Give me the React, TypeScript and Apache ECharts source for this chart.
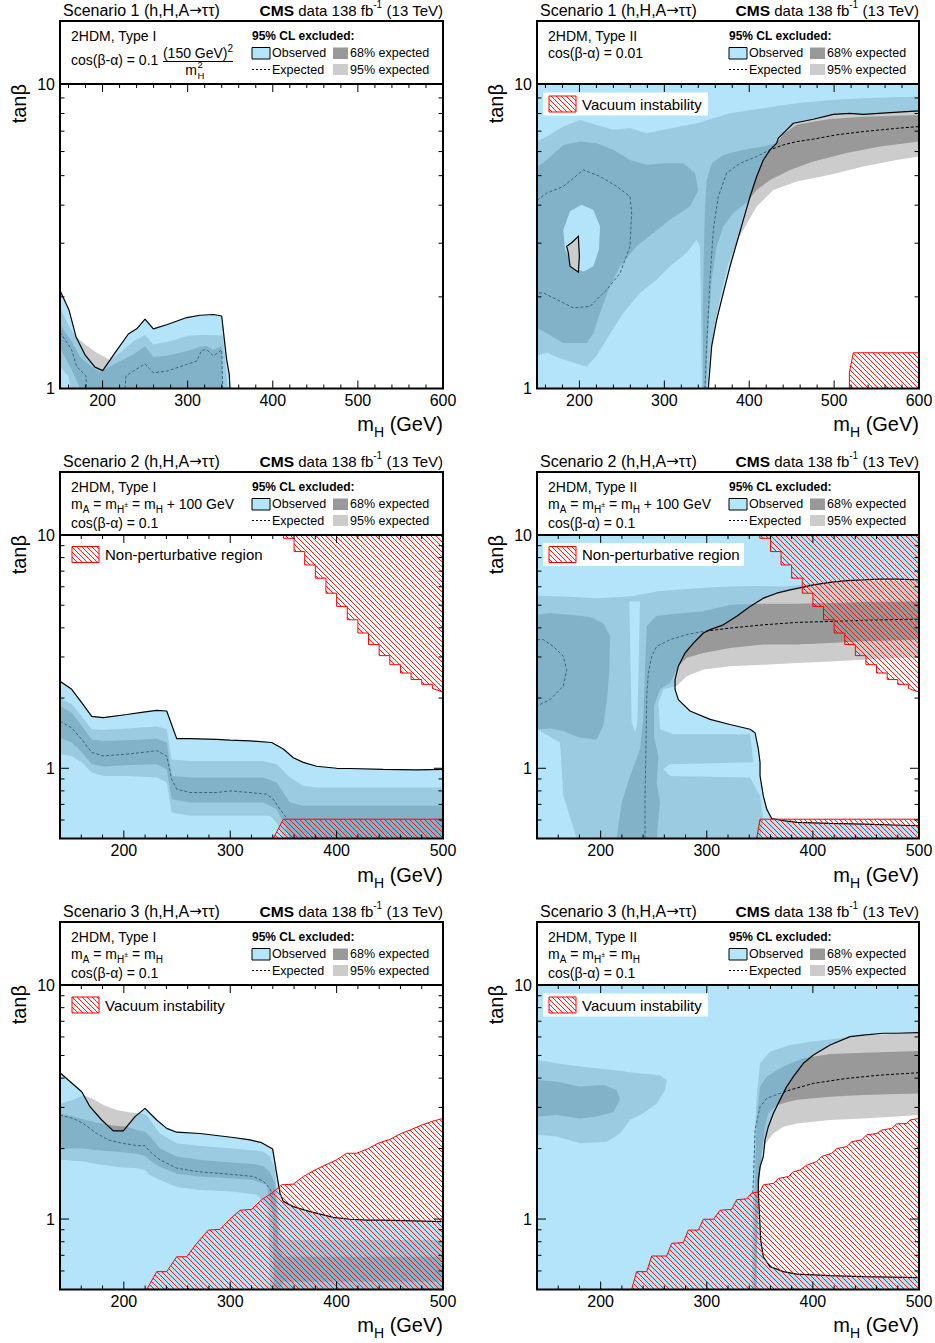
import React, { useEffect, useRef } from 'react';
import * as echarts from 'echarts';

type Pt = [number, number];

const FF = '"Liberation Sans", Arial, Helvetica, sans-serif';
const lg = (v: number) => Math.log10(v);

const C95 = '#cccccc';
const C68 = '#999999';
const COBS = 'rgba(108,202,245,0.51)';
const COBS_LEG = '#b3e5fb';

// ---------------- axis ticks ----------------
const X_LABELS_TOP = [200, 300, 400, 500, 600];
const X_LABELS_LOW = [200, 300, 400, 500];
const X_MINOR_TOP = [160, 180, 220, 240, 260, 280, 320, 340, 360, 380, 420, 440, 460, 480, 520, 540, 560, 580];
const X_MINOR_LOW = [160, 180, 220, 240, 260, 280, 320, 340, 360, 380, 420, 440, 460, 480];
const Y_MAJOR = [1, 10];
const Y_MINOR_TOP = [2, 3, 4, 5, 6, 7, 8, 9];
const Y_MINOR_LOW = [0.6, 0.7, 0.8, 0.9, 2, 3, 4, 5, 6, 7, 8, 9];

// ---------------- Panel 1: Scenario 1, Type I ----------------
const P1_OBS: Pt[] = [[150, 2.10], [160.6, 1.81], [168.8, 1.48], [179.4, 1.29], [191.1, 1.175], [200.2, 1.145], [214.6, 1.31], [230.3, 1.51], [240.1, 1.57], [249.9, 1.69], [259.7, 1.57], [275.3, 1.62], [298.9, 1.71], [314.5, 1.74], [330.1, 1.75], [340, 1.73], [342.7, 1.48], [345.8, 1.245], [348.9, 1.11], [349.7, 1.0]];
const P1_EXP_A: Pt[] = [[150, 1.53], [163.7, 1.34], [169.6, 1.18], [180.6, 1.10], [181.3, 1.0]];
const P1_EXP_B: Pt[] = [[226.4, 1.0], [227.6, 1.10], [236.2, 1.14], [249.9, 1.205], [259.7, 1.126], [275.4, 1.14], [298.9, 1.20], [310.6, 1.23], [316.5, 1.336], [322.4, 1.34], [330.2, 1.28], [340, 1.34], [341.2, 1.0]];
const P1_B95: Pt[] = [[150, 1.84], [161.8, 1.58], [170.4, 1.466], [181.3, 1.383], [193.1, 1.31], [200.9, 1.277], [208.8, 1.239], [220.5, 1.31], [236.2, 1.43], [249.9, 1.50], [259.7, 1.394], [283.2, 1.44], [298.9, 1.486], [314.5, 1.50], [330.2, 1.50], [341.2, 1.49], [343.9, 1.276], [347, 1.0], [162.5, 1.0], [159.8, 1.098], [150, 1.184]];
const P1_B68: Pt[] = [[150, 1.62], [163.7, 1.43], [173.5, 1.27], [185.3, 1.19], [197, 1.13], [208.8, 1.18], [220.5, 1.23], [236.2, 1.293], [249.9, 1.377], [259.7, 1.27], [275.4, 1.28], [298.9, 1.326], [314.5, 1.37], [322.4, 1.38], [330.2, 1.34], [340, 1.38], [341.2, 1.0], [173.5, 1.0], [163.7, 1.154], [150, 1.36]];

// ---------------- Panel 2: Scenario 1, Type II ----------------
const P2_OBS: Pt[] = [[351.8, 1.0], [355.8, 1.377], [361.7, 1.684], [369.5, 2.06], [377.4, 2.52], [385.2, 3.0], [393.1, 3.58], [401, 4.27], [408.8, 4.97], [416.6, 5.63], [424.5, 6.08], [432.3, 6.39], [434.3, 6.64], [444.1, 7.07], [452, 7.43], [475.5, 7.66], [499.1, 7.95], [518.7, 8.01], [534.4, 7.95], [565.9, 8.05], [600, 8.16]];
const P2_ISLAND: Pt[] = [[185, 2.93], [190.8, 3.01], [198.7, 3.16], [199.9, 2.72], [198.7, 2.41], [188.9, 2.52], [186.9, 2.79]];
const P2_EXP_LOOP: Pt[] = [[150, 4.15], [161.4, 4.38], [181, 4.61], [204.6, 5.22], [224.2, 4.97], [243.9, 4.61], [259.6, 4.27], [261.5, 3.77], [259.6, 2.93], [247.8, 2.39], [232.1, 2.11], [212.4, 1.86], [192.8, 1.84], [173.2, 1.96], [157.5, 2.06], [150, 2.06]];
const P2_EXP: Pt[] = [[347.9, 1.0], [349.9, 1.38], [353.8, 2.28], [357.7, 3.32], [363.6, 4.27], [373.4, 5.10], [389.2, 5.49], [408.8, 5.78], [424.5, 6.08], [440.2, 6.31], [455.9, 6.47], [475.5, 6.59], [503, 6.81], [534.5, 6.98], [573.7, 7.15], [600, 7.25]];
const P2_B95: Pt[] = [[150, 6.47], [161.4, 6.72], [181, 7.25], [200.7, 7.62], [220.3, 7.34], [239.9, 7.07], [259.6, 7.15], [279.2, 6.89], [298.8, 7.07], [318.5, 7.25], [338.1, 7.43], [357.7, 7.72], [377.4, 8.01], [416.6, 8.32], [455.9, 8.64], [495.2, 8.86], [534.5, 8.98], [600, 9.09], [600, 5.78], [573.7, 5.63], [534.5, 5.36], [495.2, 5.03], [455.9, 4.78], [428.4, 4.49], [408.8, 3.96], [393.1, 3.32], [386, 3.05], [375, 2.55], [366, 2.0], [359, 1.6], [354, 1.3], [350, 1.0], [344, 1.0], [343.2, 1.77], [342, 2.93], [338.1, 3.08], [326.3, 2.79], [306.7, 2.52], [291, 2.28], [271.3, 2.06], [251.7, 1.77], [232.1, 1.45], [220.3, 1.28], [208.5, 1.18], [181, 1.245], [161.4, 1.31], [150, 1.28]];
const P2_B68_L: Pt[] = [[150, 5.33], [161.4, 5.63], [181, 6.31], [200.7, 6.47], [220.3, 6.39], [239.9, 6.08], [259.6, 5.63], [279.2, 5.43], [298.8, 5.49], [322.4, 5.49], [336.1, 5.10], [340.1, 4.49], [330.2, 3.96], [306.7, 3.58], [287, 3.24], [267.4, 2.93], [247.8, 2.52], [236, 2.17], [224.2, 1.77], [216.4, 1.52], [208.5, 1.41], [181, 1.41], [161.4, 1.52], [150, 1.58]];
const P2_HOLE: Pt[] = [[202.6, 4.01], [216.4, 3.86], [224.2, 3.41], [223, 2.86], [216.4, 2.52], [204.6, 2.42], [192.8, 2.52], [183, 2.86], [181, 3.32], [188.9, 3.82]];
const P2_B68_R: Pt[] = [[346, 1.0], [345.2, 1.77], [346.7, 2.93], [347.9, 3.96], [349.9, 4.84], [355.8, 5.49], [369.5, 5.85], [393.1, 6.08], [416.6, 6.23], [432.3, 6.39], [440.2, 6.85], [455.9, 7.35], [475.5, 7.52], [495.2, 7.68], [534.5, 7.81], [573.7, 7.87], [600, 7.91], [600, 6.47], [554.1, 6.23], [514.8, 5.93], [475.5, 5.56], [448.1, 5.22], [424.5, 4.84], [408.8, 4.49], [397, 4.08], [381.3, 3.77], [369.5, 3.41], [361.7, 2.93], [355.8, 2.28], [351.8, 1.56], [349.1, 1.0]];
const P2_VAC: Pt[] = [[518, 1.0], [518, 1.13], [522.6, 1.31], [600, 1.31], [600, 1.0]];

// ---------------- Non-perturbative region (Scenario 2) ----------------
const NP_X = [350, 360, 370, 380, 390, 400, 410, 420, 430, 440, 450, 460, 470, 480, 490];
const NP_T = [9.68, 8.49, 7.44, 6.53, 5.63, 4.94, 4.33, 3.80, 3.39, 3.04, 2.78, 2.56, 2.40, 2.29, 2.20];
const NP_END = 2.12;
const NP_LOW: Pt[] = [[340.5, 0.5], [349.9, 0.605], [500, 0.605], [500, 0.5]];

// ---------------- Panel 3: Scenario 2, Type I ----------------
const P3_OBS: Pt[] = [[140, 2.36], [151, 2.18], [160.4, 1.91], [169.8, 1.67], [180.7, 1.65], [202.7, 1.70], [218.3, 1.74], [230.9, 1.77], [240.3, 1.76], [249.7, 1.34], [262.2, 1.34], [287.3, 1.33], [299.8, 1.32], [318.6, 1.31], [339, 1.29], [349.9, 1.21], [359.3, 1.11], [368.7, 1.06], [381.2, 1.02], [400, 1.0], [412.6, 0.998], [443.9, 0.99], [475.2, 0.984], [500, 0.99]];
const P3_B95: Pt[] = [[140, 2.00], [151, 1.88], [160.4, 1.67], [169.8, 1.47], [180.7, 1.46], [202.7, 1.48], [230.9, 1.51], [240.3, 1.47], [245, 1.09], [262.2, 1.075], [299.8, 1.075], [331.1, 1.075], [343.6, 1.04], [356.2, 0.912], [368.7, 0.840], [381.2, 0.827], [500, 0.827], [500, 0.5], [349.9, 0.5], [343.6, 0.586], [337.4, 0.626], [318.6, 0.626], [262.2, 0.626], [245, 0.647], [240.3, 0.868], [230.9, 0.912], [202.7, 0.927], [180.7, 0.927], [169.8, 0.958], [160.4, 1.06], [151, 1.13], [140, 1.15]];
const P3_B68: Pt[] = [[140, 1.85], [151, 1.73], [160.4, 1.52], [169.8, 1.33], [180.7, 1.31], [202.7, 1.32], [230.9, 1.34], [240.3, 1.29], [245, 0.927], [262.2, 0.912], [299.8, 0.912], [331.1, 0.912], [343.6, 0.868], [356.2, 0.713], [368.7, 0.690], [500, 0.690], [500, 0.5], [356.2, 0.5], [349.9, 0.586], [343.6, 0.668], [331.1, 0.713], [299.8, 0.713], [262.2, 0.713], [245, 0.737], [240.3, 0.99], [230.9, 1.04], [202.7, 1.03], [180.7, 1.017], [169.8, 1.04], [160.4, 1.17], [151, 1.29], [140, 1.35]];
const P3_EXP: Pt[] = [[140, 1.59], [151, 1.49], [160.4, 1.33], [169.8, 1.17], [180.7, 1.13], [202.7, 1.15], [218.3, 1.17], [230.9, 1.19], [240.3, 1.13], [245, 0.897], [249.7, 0.814], [262.2, 0.787], [287.3, 0.787], [299.8, 0.800], [318.6, 0.787], [334.2, 0.774], [340.5, 0.737], [346.8, 0.668], [353.7, 0.605]];

// ---------------- Panel 4: Scenario 2, Type II ----------------
const P4_OBS: Pt[] = [[500, 6.42], [479, 6.47], [463.3, 6.47], [447.6, 6.42], [431.9, 6.38], [416.2, 6.26], [400.5, 6.11], [391, 5.98], [378.5, 5.82], [365.9, 5.63], [353.3, 5.36], [340.8, 4.94], [328.2, 4.48], [315.6, 4.12], [303.1, 3.93], [296.8, 3.80], [287.4, 3.44], [279.5, 3.12], [273.2, 2.74], [270.1, 2.40], [270.1, 2.18], [273.2, 1.97], [284.2, 1.76], [303.1, 1.62], [321.9, 1.54], [340.8, 1.47], [345.5, 1.42], [348.6, 1.21], [350.2, 1.06], [350.2, 0.927], [353.3, 0.762], [356.5, 0.668], [361.2, 0.609], [372.2, 0.596], [384.8, 0.586], [416.2, 0.58], [447.6, 0.576], [500, 0.567]];
const P4_B95: Pt[] = [[140, 5.49], [164.8, 5.45], [196.2, 5.36], [227.7, 5.45], [252.8, 5.73], [277.9, 5.86], [309.3, 5.98], [340.8, 6.05], [372.2, 6.02], [403.6, 6.16], [435, 6.36], [500, 6.38], [500, 2.98], [479, 2.98], [447.6, 2.92], [416.2, 2.87], [384.8, 2.83], [353.3, 2.78], [321.9, 2.74], [296.8, 2.65], [281.1, 2.48], [271.6, 2.25], [259.1, 2.18], [254.4, 1.91], [255.9, 1.47], [268.5, 1.40], [340.8, 1.40], [343.9, 1.06], [265.4, 1.04], [259.1, 0.99], [265.4, 0.927], [340.8, 0.912], [350.2, 0.762], [353.3, 0.605], [350.2, 0.5], [177.4, 0.5], [164.8, 0.762], [161.7, 1.29], [140, 1.47]];
const P4_HOLE: Pt[] = [[227, 5.19], [237.1, 5.19], [234.6, 1.57], [232.4, 1.42], [229.2, 1.57]];
const P4_B68_L: Pt[] = [[140, 4.55], [152.3, 4.63], [171.1, 4.55], [190, 4.45], [202.5, 4.19], [208.8, 3.68], [208.2, 2.65], [206.3, 2.03], [202.5, 1.52], [196.2, 1.33], [180.5, 1.35], [164.8, 1.44], [152.3, 1.48], [140, 1.47]];
const P4_B68_R: Pt[] = [[215.1, 0.5], [219.8, 0.713], [227.7, 0.927], [237.1, 1.21], [240.2, 1.67], [241.8, 2.65], [243.4, 4.06], [252.8, 4.51], [271.6, 4.60], [296.8, 4.71], [321.9, 5.02], [353.3, 5.07], [384.8, 5.07], [416.2, 5.11], [447.6, 5.16], [500, 5.19], [500, 3.56], [447.6, 3.50], [416.2, 3.44], [384.8, 3.39], [353.3, 3.39], [321.9, 3.28], [296.8, 3.12], [281.1, 2.98], [273.2, 2.74], [265.4, 2.32], [255.9, 2.18], [250.3, 1.85], [250.3, 1.37], [254.4, 1.13], [252.8, 0.868], [255.9, 0.713], [252.8, 0.5]];
const P4_EXP_L: Pt[] = [[140, 3.56], [146, 3.56], [155.4, 3.33], [164.8, 3.02], [168, 2.65], [164.8, 2.25], [152.3, 1.97], [140, 1.85]];
const P4_EXP: Pt[] = [[241.8, 0.5], [241.8, 0.762], [242.7, 1.25], [243.4, 2.03], [244.9, 2.56], [248.1, 3.02], [252.8, 3.33], [265.4, 3.56], [281.1, 3.74], [296.8, 3.86], [321.9, 3.99], [353.3, 4.12], [384.8, 4.22], [416.2, 4.26], [447.6, 4.31], [500, 4.36]];
const P4_LOW: Pt[] = [[347, 0.5], [350.2, 0.605], [500, 0.605], [500, 0.5]];

// ---------------- Panel 5: Scenario 3, Type I ----------------
const P5_OBS: Pt[] = [[140, 4.22], [160.4, 3.50], [168.2, 3.02], [179.2, 2.65], [190.1, 2.38], [199.5, 2.38], [210.5, 2.74], [219.9, 2.97], [230.9, 2.65], [240.3, 2.44], [249.7, 2.35], [271.6, 2.32], [302.9, 2.23], [318.6, 2.18], [329.5, 2.12], [339.9, 1.99], [343.6, 1.57], [346.8, 1.29], [349.9, 1.19], [359.3, 1.13], [375, 1.075], [396.9, 1.017], [412.6, 0.998], [428.2, 0.99], [443.9, 0.99], [500, 0.974]];
const P5_B95: Pt[] = [[140, 3.10], [152.5, 3.23], [161.9, 3.39], [171.3, 3.26], [180.7, 3.07], [193.3, 2.92], [205.8, 2.85], [215.2, 2.83], [221.5, 2.78], [224.6, 2.65], [234, 2.32], [249.7, 2.11], [271.6, 2.05], [302.9, 2.00], [321.7, 1.97], [331.1, 1.94], [337.4, 1.85], [342.1, 1.62], [346.8, 0.868], [353, 0.814], [500, 0.814], [500, 0.5], [337.4, 0.5], [335.8, 1.13], [324.9, 1.27], [302.9, 1.31], [271.6, 1.33], [249.7, 1.37], [234, 1.47], [224.6, 1.54], [219.9, 1.62], [212.1, 1.65], [193.3, 1.67], [174.5, 1.72], [161.9, 1.76], [140, 1.79]];
const P5_B68: Pt[] = [[140, 2.83], [152.5, 2.74], [161.9, 2.67], [174.5, 2.58], [190.1, 2.51], [202.7, 2.48], [212.1, 2.40], [219.9, 2.36], [224.6, 2.25], [234, 2.00], [249.7, 1.85], [271.6, 1.79], [302.9, 1.74], [321.7, 1.72], [331.1, 1.68], [337.4, 1.59], [342.1, 1.42], [345.2, 0.762], [349.9, 0.690], [500, 0.690], [500, 0.540], [349.9, 0.540], [346.8, 0.5], [341.1, 0.5], [339.9, 1.06], [334.2, 1.40], [321.7, 1.47], [302.9, 1.49], [271.6, 1.52], [249.7, 1.56], [234, 1.67], [224.6, 1.78], [219.9, 1.86], [212.1, 1.90], [193.3, 1.94], [174.5, 1.97], [161.9, 2.00], [140, 2.00]];
const P5_EXP: Pt[] = [[140, 2.78], [152.5, 2.69], [161.9, 2.56], [174.5, 2.32], [185.4, 2.18], [198, 2.11], [212.1, 2.06], [219.9, 2.06], [224.6, 1.94], [234, 1.79], [249.7, 1.65], [271.6, 1.59], [302.9, 1.55], [321.7, 1.52], [331.1, 1.45], [337.4, 1.35], [339.9, 1.27]];
const P5_VAC: Pt[] = [[221.5, 0.5], [230.9, 0.596], [240.3, 0.596], [249.7, 0.690], [259.1, 0.690], [268.5, 0.787], [279.4, 0.897], [290.4, 0.903], [299.8, 1.0], [309.2, 1.09], [320.1, 1.10], [329.5, 1.21], [339, 1.29], [348.3, 1.40], [359.3, 1.41], [368.7, 1.52], [379.7, 1.62], [389.1, 1.70], [400, 1.79], [409.4, 1.91], [418.8, 1.91], [429.8, 2.00], [439.2, 2.11], [450.2, 2.19], [459.6, 2.31], [469, 2.40], [479.9, 2.52], [489.3, 2.61], [500, 2.69], [500, 0.5]];

// ---------------- Panel 6: Scenario 3, Type II ----------------
const P6_OBS: Pt[] = [[500, 6.26], [479, 6.22], [466.5, 6.22], [447.6, 6.11], [435, 6.02], [416.2, 5.54], [400.5, 5.02], [391, 4.63], [381.6, 4.06], [375.3, 3.68], [369, 3.23], [362.8, 2.83], [358, 2.48], [354.9, 2.18], [353.3, 1.85], [350.2, 1.67], [348.6, 1.47], [348.6, 1.29], [349.6, 1.06], [350.8, 0.814], [353.3, 0.690], [359.6, 0.626], [372.2, 0.596], [384.8, 0.582], [416.2, 0.573], [447.6, 0.567], [500, 0.562]];
const P6_B95_L: Pt[] = [[140, 4.78], [158.5, 4.63], [180.5, 4.48], [212, 4.33], [237.1, 4.19], [255.9, 4.12], [262.2, 3.93], [260.7, 3.56], [252.8, 3.12], [240.2, 2.83], [227.7, 2.65], [218.2, 2.32], [205.7, 2.14], [180.5, 2.11], [158.5, 2.25], [140, 2.29]];
const P6_B68_L: Pt[] = [[140, 3.93], [158.5, 3.86], [180.5, 3.68], [202.5, 3.74], [215.1, 3.56], [218.2, 3.23], [212, 2.87], [196.2, 2.74], [180.5, 2.69], [158.5, 2.78], [140, 2.74]];
const P6_B95_R: Pt[] = [[342.3, 0.5], [343.3, 1.06], [344.5, 2.03], [347, 3.33], [350.2, 4.63], [359.6, 5.19], [378.5, 5.54], [400.5, 5.73], [431.9, 5.98], [447.6, 6.09], [479, 6.20], [500, 6.22], [500, 2.78], [479, 2.74], [447.6, 2.69], [416.2, 2.65], [384.8, 2.56], [372.2, 2.48], [362.8, 2.32], [358, 2.18], [353.3, 2.03], [350.2, 1.67], [347.7, 1.29], [347, 0.5]];
const P6_B68_R: Pt[] = [[344.5, 0.5], [345.5, 1.47], [347, 2.65], [350.2, 3.68], [356.5, 4.06], [372.2, 4.48], [391, 4.86], [416.2, 5.07], [447.6, 5.14], [479, 5.19], [500, 5.22], [500, 3.44], [479, 3.42], [447.6, 3.39], [416.2, 3.33], [384.8, 3.23], [365.9, 3.07], [358, 2.83], [354.9, 2.48], [351.8, 1.91], [348.6, 1.29], [346.4, 0.5]];
const P6_EXP: Pt[] = [[343.3, 1.29], [343.9, 1.47], [345.5, 2.40], [350.2, 3.02], [356.5, 3.28], [367.5, 3.42], [378.5, 3.56], [400.5, 3.80], [431.9, 3.99], [463.3, 4.12], [500, 4.22]];
const P6_VAC: Pt[] = [[229.2, 0.5], [233.9, 0.596], [243.4, 0.596], [248.1, 0.695], [262.2, 0.695], [266.9, 0.787], [277.9, 0.794], [282.6, 0.897], [292.1, 0.897], [296.8, 0.998], [306.2, 0.998], [312.5, 1.09], [323.5, 1.10], [328.2, 1.21], [337.6, 1.22], [342.3, 1.29], [350.2, 1.31], [353.3, 1.40], [362.8, 1.42], [367.5, 1.49], [376.9, 1.52], [381.6, 1.59], [387.9, 1.62], [394.2, 1.70], [403.6, 1.76], [408.3, 1.85], [417.8, 1.91], [422.5, 2.00], [431.9, 2.04], [436.6, 2.14], [446, 2.18], [450.7, 2.29], [460.2, 2.32], [464.9, 2.40], [474.3, 2.44], [479, 2.55], [488.4, 2.56], [491.6, 2.65], [500, 2.69], [500, 0.5]];

// ---------------- layout ----------------
const GRIDS = [
  { left: 60, top: 84, width: 383, height: 304.5, xmin: 150, xmax: 600, ymin: 1 },
  { left: 537, top: 84, width: 382, height: 304.5, xmin: 150, xmax: 600, ymin: 1 },
  { left: 60, top: 535, width: 383, height: 303.5, xmin: 140, xmax: 500, ymin: 0.5 },
  { left: 537, top: 535, width: 382, height: 303.5, xmin: 140, xmax: 500, ymin: 0.5 },
  { left: 60, top: 985, width: 383, height: 304.5, xmin: 140, xmax: 500, ymin: 0.5 },
  { left: 537, top: 985, width: 382, height: 304.5, xmin: 140, xmax: 500, ymin: 0.5 },
];

function makeHatch(): HTMLCanvasElement {
  const s = 5;
  const c = document.createElement('canvas');
  c.width = s;
  c.height = s;
  const ctx = c.getContext('2d') as CanvasRenderingContext2D;
  ctx.strokeStyle = '#ff0000';
  ctx.lineWidth = 0.9;
  ctx.beginPath();
  ctx.moveTo(0, 0); ctx.lineTo(s, s);
  ctx.moveTo(-1, s - 1); ctx.lineTo(1, s + 1);
  ctx.moveTo(s - 1, -1); ctx.lineTo(s + 1, 1);
  ctx.stroke();
  return c;
}

function npStairs(): Pt[] {
  const pts: Pt[] = [[NP_X[0], 10]];
  for (let i = 0; i < NP_X.length; i++) {
    const last = i === NP_X.length - 1;
    pts.push([NP_X[i], NP_T[i]]);
    pts.push([last ? 500 : NP_X[i + 1], last ? NP_END : NP_T[i]]);
  }
  pts.push([500, 10]);
  return pts;
}

const poly = (g: number, pts: Pt[], fill: any, z: number, stroke?: string, lw = 1) => ({
  type: 'custom', xAxisIndex: g, yAxisIndex: g, z, silent: true, clip: true,
  data: [[pts[0][0], lg(pts[0][1])]],
  renderItem: (_p: any, api: any) => ({
    type: 'polygon',
    shape: { points: pts.map((p) => api.coord([p[0], lg(p[1])])) },
    style: { fill, stroke: stroke || null, lineWidth: lw },
  }),
});

const curve = (g: number, pts: Pt[], color: string, width: number, type: any, z: number) => ({
  type: 'line', xAxisIndex: g, yAxisIndex: g, z, silent: true, symbol: 'none', showSymbol: false,
  data: pts.map((p) => [p[0], lg(p[1])]),
  lineStyle: { color, width, type },
  emphasis: { disabled: true },
});

const frame = (g: number) => {
  const G = GRIDS[g];
  const top = G.ymin === 1;
  const xMaj = top ? X_LABELS_TOP : X_LABELS_LOW;
  const xMin = top ? X_MINOR_TOP : X_MINOR_LOW;
  const yMin = top ? Y_MINOR_TOP : Y_MINOR_LOW;
  return {
    type: 'custom', xAxisIndex: g, yAxisIndex: g, z: 9, silent: true, clip: false,
    data: [[G.xmin, lg(G.ymin)]],
    renderItem: (params: any, api: any) => {
      const cs = params.coordSys;
      const x0 = cs.x, y0 = cs.y, x1 = cs.x + cs.width, y1 = cs.y + cs.height;
      const ch: any[] = [];
      const seg = (a: number, b: number, c: number, d: number) =>
        ch.push({ type: 'line', shape: { x1: a, y1: b, x2: c, y2: d }, style: { stroke: '#000', lineWidth: 1 } });
      xMaj.forEach((v) => { const px = api.coord([v, lg(G.ymin)])[0]; seg(px, y1, px, y1 - 8); seg(px, y0, px, y0 + 8); });
      xMin.forEach((v) => { const px = api.coord([v, lg(G.ymin)])[0]; seg(px, y1, px, y1 - 4); seg(px, y0, px, y0 + 4); });
      Y_MAJOR.forEach((v) => { const py = api.coord([G.xmin, lg(v)])[1]; seg(x0, py, x0 + 9, py); seg(x1, py, x1 - 9, py); });
      yMin.forEach((v) => { const py = api.coord([G.xmin, lg(v)])[1]; seg(x0, py, x0 + 4.5, py); seg(x1, py, x1 - 4.5, py); });
      ch.push({ type: 'rect', shape: { x: x0, y: y0, width: cs.width, height: cs.height }, style: { fill: 'none', stroke: '#000', lineWidth: 2 } });
      return { type: 'group', children: ch };
    },
  };
};

const subSt = (fs: number, lh: number) => ({ fontSize: fs, fontFamily: FF, lineHeight: lh, verticalAlign: 'bottom', fill: '#000' });
const supSt = (fs: number, lh: number) => ({ fontSize: fs, fontFamily: FF, lineHeight: lh, verticalAlign: 'top', fill: '#000' });

const T = (x: number, y: number, text: string, o: any = {}) => ({
  type: 'text', x, y, z: 50, silent: true, rotation: o.rot || 0,
  style: {
    text, fill: '#000', fontSize: o.fs || 14, fontFamily: FF, fontWeight: o.fw || 'normal',
    align: o.align || 'left', textAlign: o.align || 'left', verticalAlign: 'middle', textVerticalAlign: 'middle',
    lineHeight: o.lh, rich: o.rich,
  },
});

function buildGraphics(hatch: any) {
  const els: any[] = [];
  const cols = [{ L: 60, R: 443 }, { L: 537, R: 919 }];
  const rows = [0, 451, 901];
  const scen = ['1', '2', '3'];
  rows.forEach((oy, ri) => {
    cols.forEach((c, ci) => {
      const { L, R } = c;
      els.push(T(L + 3, 10 + oy, `Scenario ${scen[ri]} (h,H,A{ar|→}ττ)`, {
        fs: 16, lh: 20,
        rich: { ar: { fontSize: 15, fontFamily: '"DejaVu Sans", sans-serif', fill: '#000' } },
      }));
      els.push(T(R, 10 + oy, '{b|CMS} data 138 fb{u|-1} (13 TeV)', {
        fs: 15, align: 'right', lh: 22,
        rich: { b: { fontSize: 15.5, fontWeight: 'bold', fontFamily: FF, fill: '#000' }, u: supSt(10, 10) },
      }));
      els.push({ type: 'rect', z: 40, silent: true, shape: { x: L, y: 21 + oy, width: R - L, height: 63 }, style: { fill: '#fff', stroke: '#000', lineWidth: 2 } });
      els.push(T(L + 11, 36 + oy, ci === 0 ? '2HDM, Type I' : '2HDM, Type II', { fs: 14 }));
      // legend
      els.push(T(L + 192, 36 + oy, '95% CL excluded:', { fs: 12, fw: 'bold' }));
      els.push({ type: 'rect', z: 50, silent: true, shape: { x: L + 192, y: 47.5 + oy, width: 18, height: 11.5 }, style: { fill: COBS_LEG, stroke: '#000', lineWidth: 1 } });
      els.push(T(L + 212, 53 + oy, 'Observed', { fs: 12.5 }));
      els.push({ type: 'rect', z: 50, silent: true, shape: { x: L + 273, y: 47.5 + oy, width: 15, height: 11.5 }, style: { fill: C68 } });
      els.push(T(L + 290, 53 + oy, '68% expected', { fs: 12.5 }));
      els.push({ type: 'line', z: 50, silent: true, shape: { x1: L + 192, y1: 69.5 + oy, x2: L + 210, y2: 69.5 + oy }, style: { stroke: '#000', lineWidth: 1, lineDash: [2, 2] } });
      els.push(T(L + 212, 69.5 + oy, 'Expected', { fs: 12.5 }));
      els.push({ type: 'rect', z: 50, silent: true, shape: { x: L + 273, y: 64 + oy, width: 15, height: 11 }, style: { fill: C95 } });
      els.push(T(L + 290, 69.5 + oy, '95% expected', { fs: 12.5 }));
      // model lines
      if (ri === 0 && ci === 0) {
        els.push(T(L + 11, 60, 'cos(β-α) = 0.1', { fs: 14 }));
        els.push(T(198, 53, '(150 GeV){u|2}', { fs: 14, align: 'center', lh: 20, rich: { u: supSt(10, 10) } }));
        els.push({ type: 'line', z: 50, silent: true, shape: { x1: 163, y1: 61.5, x2: 233, y2: 61.5 }, style: { stroke: '#000', lineWidth: 1 } });
        els.push(T(197, 70, 'm', { fs: 14, align: 'right' }));
        els.push(T(197.5, 64.5, '2', { fs: 9.5 }));
        els.push(T(197.5, 75.5, 'H', { fs: 9.5 }));
      } else if (ri === 0) {
        els.push(T(L + 11, 53, 'cos(β-α) = 0.01', { fs: 14 }));
      } else {
        const txt = ri === 1 ? 'm{s|A} = m{s|H}{pm|±} = m{s|H} + 100 GeV' : 'm{s|A} = m{s|H}{pm|±} = m{s|H}';
        els.push(T(L + 11, 53 + oy, txt, {
          fs: 14, lh: 20,
          rich: { s: subSt(10, 10), pm: { fontSize: 7, fontFamily: FF, fill: '#000' } },
        }));
        els.push(T(L + 11, 71.5 + oy, 'cos(β-α) = 0.1', { fs: 14 }));
      }
      // axis titles
      els.push(T(R, 424 + oy, 'm{s|H} (GeV)', { fs: 20, align: 'right', lh: 30, rich: { s: subSt(14, 12) } }));
      els.push(T(L - 41, 84 + oy, 'tanβ', { fs: 20, align: 'right', rot: Math.PI / 2 }));
    });
  });
  // in-plot legends for theory constraints
  const hl = (x: number, y: number, label: string, boxW: number) => {
    if (boxW > 0) els.push({ type: 'rect', z: 45, silent: true, shape: { x: x - 6, y: y - 11.5, width: boxW, height: 23 }, style: { fill: '#fff' } });
    els.push({ type: 'rect', z: 50, silent: true, shape: { x, y: y - 8, width: 27, height: 16 }, style: { fill: hatch, stroke: '#ff0000', lineWidth: 1 } });
    els.push(T(x + 33, y, label, { fs: 15 }));
  };
  hl(549, 104, 'Vacuum instability', 165);
  hl(72, 554.5, 'Non-perturbative region', 0);
  hl(549, 554.5, 'Non-perturbative region', 201);
  hl(72, 1005, 'Vacuum instability', 0);
  hl(549, 1005, 'Vacuum instability', 165);
  return els;
}

export default function App() {
  const ref = useRef<HTMLDivElement>(null);
  useEffect(() => {
    if (!ref.current) return;
    const chart = echarts.init(ref.current, undefined, { renderer: 'svg' });
    const hatchCanvas = makeHatch();
    const hatch = { image: hatchCanvas, repeat: 'repeat', imageWidth: 5, imageHeight: 5 };
    const DASH = [3, 2];

    const grid = GRIDS.map((G) => ({ left: G.left, top: G.top, width: G.width, height: G.height, containLabel: false, outerBoundsMode: 'none', show: false }));
    const xAxis = GRIDS.map((G, i) => ({
      gridIndex: i, type: 'value', min: G.xmin, max: G.xmax,
      axisLine: { show: false }, axisTick: { show: false }, splitLine: { show: false },
      axisLabel: {
        customValues: G.ymin === 1 ? X_LABELS_TOP : X_LABELS_LOW, showMinLabel: true, showMaxLabel: true,
        fontSize: 16, color: '#000', fontFamily: FF, margin: 4,
      },
    }));
    const yAxis = GRIDS.map((G, i) => ({
      gridIndex: i, type: 'value', min: lg(G.ymin), max: 1,
      axisLine: { show: false }, axisTick: { show: false }, splitLine: { show: false },
      axisLabel: {
        customValues: Y_MAJOR.map(lg), showMinLabel: true, showMaxLabel: true,
        formatter: (v: number) => String(Math.round(Math.pow(10, v))),
        fontSize: 16, color: '#000', fontFamily: FF, margin: 5,
      },
    }));

    const np = npStairs();
    const series: any[] = [
      // panel 1
      poly(0, P1_B95, C95, 1), poly(0, P1_B68, C68, 2),
      curve(0, P1_EXP_A, '#000', 1, DASH, 4), curve(0, P1_EXP_B, '#000', 1, DASH, 4),
      poly(0, [...P1_OBS, [150, 1]], COBS, 5),
      curve(0, P1_OBS, '#000', 1.2, 'solid', 8),
      frame(0),
      // panel 2
      poly(1, P2_B95, C95, 1), poly(1, P2_B68_L, C68, 2), poly(1, P2_B68_R, C68, 2), poly(1, P2_HOLE, '#ffffff', 3),
      curve(1, P2_EXP_LOOP, '#000', 1, DASH, 4), curve(1, P2_EXP, '#000', 1, DASH, 4),
      poly(1, [...P2_OBS, [600, 10], [150, 10], [150, 1]], COBS, 5),
      poly(1, P2_ISLAND, C95, 6, '#000', 1.2),
      poly(1, P2_VAC, hatch, 7, '#ff0000', 1),
      curve(1, P2_OBS, '#000', 1.2, 'solid', 8),
      frame(1),
      // panel 3
      poly(2, P3_B95, C95, 1), poly(2, P3_B68, C68, 2),
      curve(2, P3_EXP, '#000', 1, DASH, 4),
      poly(2, [...P3_OBS, [500, 0.5], [140, 0.5]], COBS, 5),
      curve(2, P3_OBS, '#000', 1.2, 'solid', 6),
      poly(2, np, hatch, 7, '#ff0000', 1), poly(2, NP_LOW, hatch, 7, '#ff0000', 1),
      frame(2),
      // panel 4
      poly(3, P4_B95, C95, 1), poly(3, P4_B68_L, C68, 2), poly(3, P4_B68_R, C68, 2), poly(3, P4_HOLE, '#ffffff', 3),
      curve(3, P4_EXP_L, '#000', 1, DASH, 4), curve(3, P4_EXP, '#000', 1, DASH, 4),
      poly(3, [...P4_OBS, [500, 0.5], [140, 0.5], [140, 10], [500, 10]], COBS, 5),
      curve(3, P4_OBS, '#000', 1.2, 'solid', 6),
      poly(3, np, hatch, 7, '#ff0000', 1), poly(3, P4_LOW, hatch, 7, '#ff0000', 1),
      frame(3),
      // panel 5
      poly(4, P5_B95, C95, 1), poly(4, P5_B68, C68, 2),
      curve(4, P5_EXP, '#000', 1, DASH, 4),
      poly(4, [...P5_OBS, [500, 0.5], [140, 0.5]], COBS, 5),
      curve(4, P5_OBS, '#000', 1.2, 'solid', 6),
      poly(4, P5_VAC, hatch, 7, '#ff0000', 1),
      frame(4),
      // panel 6
      poly(5, P6_B95_L, C95, 1), poly(5, P6_B95_R, C95, 1), poly(5, P6_B68_L, C68, 2), poly(5, P6_B68_R, C68, 2),
      curve(5, P6_EXP, '#000', 1, DASH, 4),
      poly(5, [...P6_OBS, [500, 0.5], [140, 0.5], [140, 10], [500, 10]], COBS, 5),
      curve(5, P6_OBS, '#000', 1.2, 'solid', 6),
      poly(5, P6_VAC, hatch, 7, '#ff0000', 1),
      frame(5),
    ];

    chart.setOption({
      animation: false,
      backgroundColor: '#ffffff',
      grid, xAxis, yAxis, series,
      graphic: { elements: buildGraphics(hatch) },
    });
    return () => chart.dispose();
  }, []);
  return (
    <div
      ref={ref}
      style={{ position: 'absolute', left: 0, top: 0, width: 935, height: 1343, background: '#fff' }}
    />
  );
}
